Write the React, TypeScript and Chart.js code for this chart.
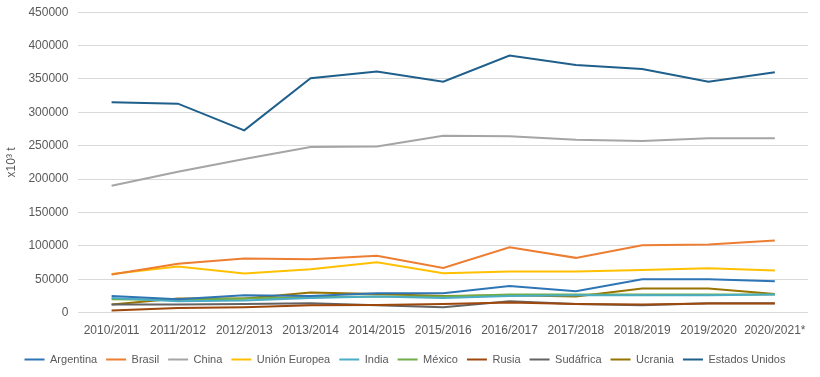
import React, { useEffect, useRef } from "react";
import { Chart, registerables } from "chart.js";

Chart.register(...registerables);

const categories = [
  "2010/2011", "2011/2012", "2012/2013", "2013/2014", "2014/2015", "2015/2016",
  "2016/2017", "2017/2018", "2018/2019", "2019/2020", "2020/2021*",
];

const argentina = [25000, 20000, 26000, 25000, 29000, 29000, 40000, 32000, 50000, 50000, 47000];
const brasil = [57000, 73000, 81000, 80000, 85000, 67000, 98000, 82000, 101000, 102000, 108000];
const china = [190000, 211000, 230000, 248000, 249000, 265000, 264000, 259000, 257000, 261000, 261000];
const unionEuropea = [58000, 69000, 58500, 65000, 75500, 59000, 61500, 61500, 64000, 66500, 63000];
const india = [22000, 17000, 18000, 22000, 24000, 22000, 25000, 26000, 26000, 26000, 27000];
const mexico = [20000, 19000, 21000, 23000, 24000, 24000, 27000, 27000, 27000, 27000, 27000];
const rusia = [3000, 7000, 8000, 11000, 11500, 13000, 15000, 13000, 12000, 13500, 13500];
const sudafrica = [12000, 12000, 13000, 14000, 11000, 8000, 17000, 13000, 11000, 14000, 14000];
const ucrania = [12000, 21000, 21000, 30000, 28000, 25000, 26000, 24000, 36000, 36000, 28000];
const estadosUnidos = [315000, 313000, 273000, 351000, 361000, 346000, 385000, 371000, 365000, 346000, 360000];

const seriesNames = [
  "Argentina", "Brasil", "China", "Unión Europea", "India", "México",
  "Rusia", "Sudáfrica", "Ucrania", "Estados Unidos",
];
const seriesData = [
  argentina, brasil, china, unionEuropea, india, mexico, rusia, sudafrica, ucrania, estadosUnidos,
];
const seriesColors = [
  "#2E75B6", "#ED7D31", "#A5A5A5", "#FFC000", "#4BACC6", "#70AD47",
  "#9E480E", "#636363", "#997300", "#1F5F8B",
];

const yTicks = [0, 50000, 100000, 150000, 200000, 250000, 300000, 350000, 400000, 450000];

export default function App() {
  const ref = useRef<HTMLCanvasElement | null>(null);
  useEffect(() => {
    document.body.style.margin = "0";
    if (!ref.current) return;
    const chart = new Chart(ref.current, {
      type: "line",
      data: {
        labels: categories,
        datasets: seriesNames.map((name, i) => ({
          label: name,
          data: seriesData[i],
          borderColor: seriesColors[i],
          backgroundColor: seriesColors[i],
          borderWidth: 2,
          pointRadius: 0,
          tension: 0,
          fill: false,
        })),
      },
      options: {
        animation: false,
        responsive: false,
        maintainAspectRatio: false,
        layout: { padding: { left: 2, right: 12, top: 0, bottom: 2 } },
        plugins: {
          legend: {
            position: "bottom",
            labels: {
              usePointStyle: true,
              pointStyle: "line",
              pointStyleWidth: 20,
              boxHeight: 2,
              color: "#595959",
              font: { family: "Liberation Sans, Arial", size: 11 },
              padding: 9,
            },
          },
          tooltip: { enabled: false },
        },
        scales: {
          x: {
            offset: true,
            grid: { display: false },
            border: { display: false },
            afterFit: (axis: any) => {
              axis.height += 4;
            },
            ticks: {
              color: "#595959",
              font: { family: "Liberation Sans, Arial", size: 12 },
              maxRotation: 0,
              autoSkip: false,
            },
          },
          y: {
            min: 0,
            max: 450000,
            afterBuildTicks: (axis: any) => {
              axis.ticks = yTicks.map((v) => ({ value: v }));
            },
            grid: { color: "#D9D9D9", drawTicks: false },
            border: { display: false },
            ticks: {
              color: "#595959",
              font: { family: "Liberation Sans, Arial", size: 12 },
              padding: 10,
              callback: (v: any) => String(v),
            },
            title: {
              display: true,
              text: "x10³ t",
              color: "#595959",
              padding: { top: 2, bottom: 0 },
              font: { family: "Liberation Sans, Arial", size: 12 },
            },
          },
        },
      },
    });
    return () => chart.destroy();
  }, []);
  return (
    <div style={{ width: 820, height: 377, overflow: "hidden" }}>
      <canvas
        ref={ref}
        width={820}
        height={382}
        style={{ display: "block", marginTop: -5 }}
      />
    </div>
  );
}
